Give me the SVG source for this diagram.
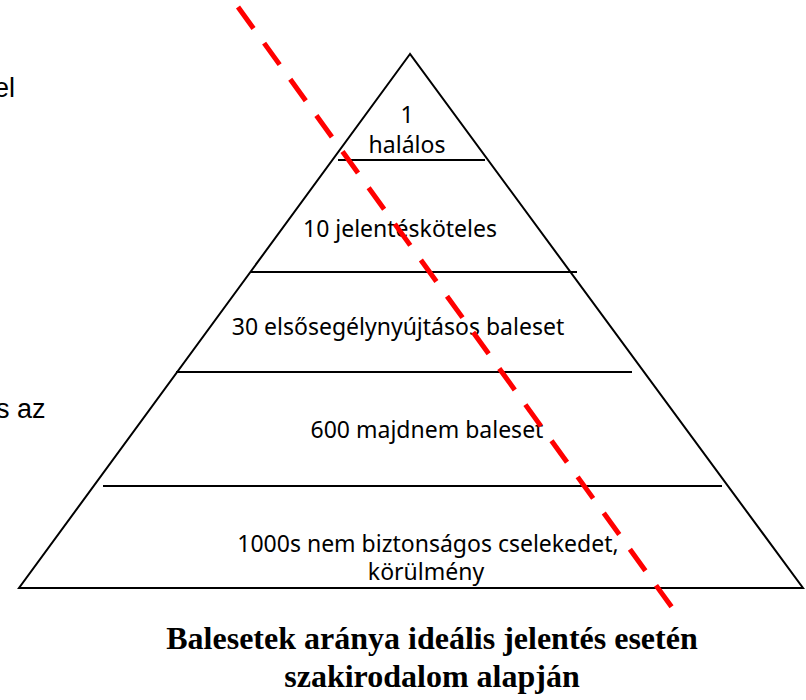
<svg xmlns="http://www.w3.org/2000/svg" width="806" height="700" viewBox="0 0 806 700">
<style>
.edge{stroke:#000;stroke-width:2;fill:none}
.lbl{font-family:"Noto Sans","Open Sans",sans-serif;font-size:23px;fill:#000;text-anchor:middle}
.side{font-family:"Liberation Sans",Arial,sans-serif;font-size:27px;fill:#000}
.title{font-family:"Liberation Serif","Times New Roman",serif;font-size:32px;font-weight:bold;fill:#000;text-anchor:middle}
.cut{stroke:#ff0000;stroke-width:5;stroke-dasharray:26.5 18.1;fill:none}
</style>
<rect width="806" height="700" fill="#fff"/>
<text class="side" x="-6" y="97">el</text>
<text class="side" x="-4" y="418">s az</text>
<g id="pyramid">
<polygon class="edge" points="410,54 19,588 803,588"/>
</g>
<g id="connectors">
<line class="edge" x1="338" y1="160" x2="485" y2="160"/>
<line class="edge" x1="250" y1="272" x2="577" y2="272"/>
<line class="edge" x1="176" y1="372" x2="632" y2="372"/>
<line class="edge" x1="103" y1="486" x2="722" y2="486"/>
</g>
<g id="level1"><text class="lbl" x="407" y="123">1</text><text class="lbl" x="407" y="153">halálos</text></g>
<g id="level2"><text class="lbl" x="400" y="237">10 jelentésköteles</text></g>
<g id="level3"><text class="lbl" x="398" y="335">30 elsősegélynyújtásos baleset</text></g>
<g id="level4"><text class="lbl" x="427" y="438">600 majdnem baleset</text></g>
<g id="level5"><text class="lbl" x="428" y="552">1000s nem biztonságos cselekedet,</text><text class="lbl" x="426" y="580">körülmény</text></g>
<line class="cut" x1="238" y1="7" x2="676" y2="613"/>
<g id="title"><text class="title" x="432" y="649">Balesetek aránya ideális jelentés esetén</text><text class="title" x="432" y="687">szakirodalom alapján</text></g>
</svg>
